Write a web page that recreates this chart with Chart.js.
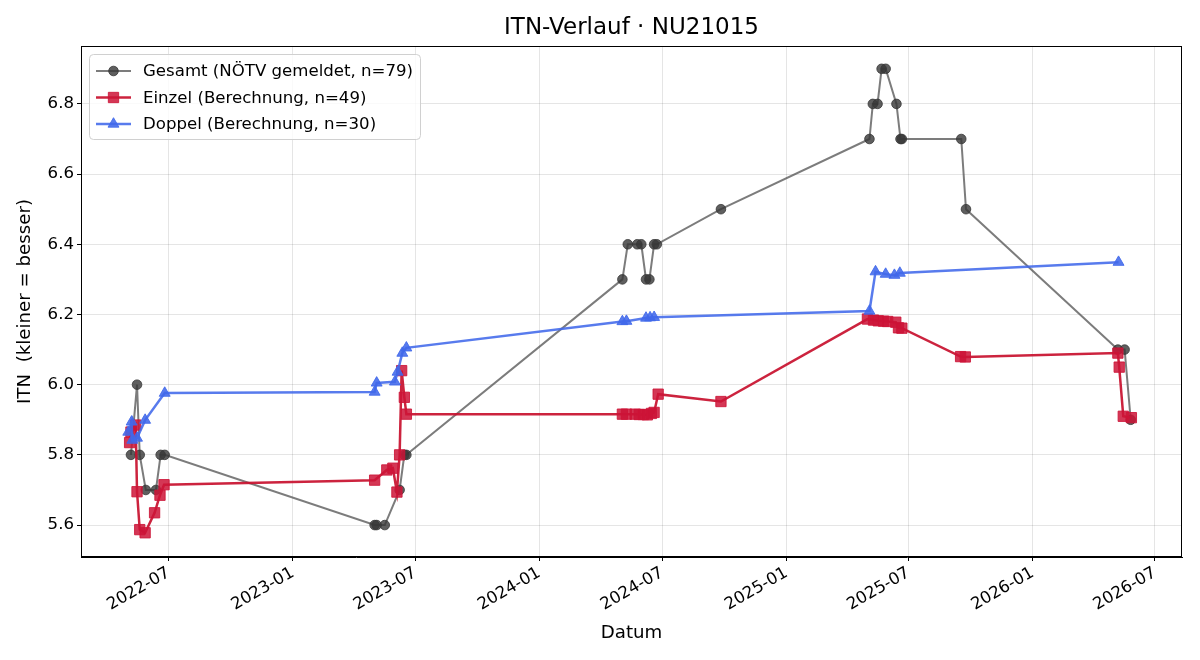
<!DOCTYPE html>
<html>
<head>
<meta charset="utf-8">
<script src="https://cdn.jsdelivr.net/npm/chart.js@4.4.1/dist/chart.umd.min.js"></script>
<style>
  html, body { margin: 0; padding: 0; background: #fff; }
  #wrap { width: 1200px; height: 660px; position: relative; }
</style>
</head>
<body>
<div id="wrap"><canvas id="itnChart" width="1200" height="660"></canvas></div>
<script>
// values
const gesamtDates = [
    '2022-05-06', '2022-05-15', '2022-05-19', '2022-05-28', '2022-06-12', '2022-06-19', '2022-06-25',
    '2023-05-02', '2023-05-05', '2023-05-17', '2023-06-08', '2023-06-15', '2023-06-18',
    '2024-05-03', '2024-05-11', '2024-05-25', '2024-05-31', '2024-06-07', '2024-06-12', '2024-06-19', '2024-06-23',
    '2024-09-26',
    '2025-05-04', '2025-05-09', '2025-05-16', '2025-05-22', '2025-05-28', '2025-06-13', '2025-06-19', '2025-06-21',
    '2025-09-17', '2025-09-24',
    '2026-05-07', '2026-05-17', '2026-05-26'
];
const gesamtValues = [
    5.8, 6.0, 5.8, 5.7, 5.7, 5.8, 5.8,
    5.6, 5.6, 5.6, 5.7, 5.8, 5.8,
    6.3, 6.4, 6.4, 6.4, 6.3, 6.3, 6.4, 6.4,
    6.5,
    6.7, 6.8, 6.8, 6.9, 6.9, 6.8, 6.7, 6.7,
    6.7, 6.5,
    6.1, 6.1, 5.9
];

const einzelDates = [
    '2022-05-04', '2022-05-06', '2022-05-13', '2022-05-15', '2022-05-19', '2022-05-27', '2022-06-10', '2022-06-18', '2022-06-24',
    '2023-05-02', '2023-05-20', '2023-05-29', '2023-06-04', '2023-06-08', '2023-06-11', '2023-06-15', '2023-06-18',
    '2024-05-03', '2024-05-09', '2024-05-22', '2024-05-28', '2024-06-03', '2024-06-09', '2024-06-15', '2024-06-19', '2024-06-25',
    '2024-09-26',
    '2025-05-01', '2025-05-10', '2025-05-17', '2025-05-25', '2025-05-31', '2025-06-12', '2025-06-16', '2025-06-21',
    '2025-09-16', '2025-09-23',
    '2026-05-07', '2026-05-09', '2026-05-15', '2026-05-27'
];
const einzelValues = [
    5.835, 5.865, 5.885, 5.695, 5.587, 5.578, 5.635, 5.685, 5.715,
    5.728, 5.757, 5.762, 5.694, 5.80, 6.04, 5.964, 5.916,
    5.916, 5.916, 5.916, 5.915, 5.915, 5.914, 5.918, 5.921, 5.973,
    5.952,
    6.187, 6.184, 6.182, 6.181, 6.180, 6.178, 6.162, 6.161,
    6.080, 6.079,
    6.090, 6.050, 5.910, 5.906
];

const doppelDates = [
    '2022-05-02', '2022-05-07', '2022-05-08', '2022-05-15', '2022-05-27', '2022-06-25',
    '2023-05-02', '2023-05-05', '2023-06-01', '2023-06-05', '2023-06-12', '2023-06-18',
    '2024-05-03', '2024-05-09', '2024-06-07', '2024-06-13', '2024-06-19',
    '2025-05-04', '2025-05-13', '2025-05-28', '2025-06-10', '2025-06-18',
    '2026-05-08'
];
const doppelValues = [
    5.865, 5.894, 5.842, 5.848, 5.899, 5.976,
    5.979, 6.005, 6.008, 6.036, 6.090, 6.105,
    6.180, 6.181, 6.190, 6.191, 6.192,
    6.210, 6.322, 6.315, 6.312, 6.318,
    6.349
];

const xTickLabels = ['2022-07', '2023-01', '2023-07', '2024-01', '2024-07', '2025-01', '2025-07', '2026-01', '2026-07'];
const yTickValues = [5.6, 5.8, 6.0, 6.2, 6.4, 6.6, 6.8];

const seriesLabels = [
    'Gesamt (NÖTV gemeldet, n=79)',
    'Einzel (Berechnung, n=49)',
    'Doppel (Berechnung, n=30)'
];

const day = s => Date.parse(s + 'T00:00:00Z');
const toPoints = (dates, vals) => dates.map((d, i) => ({ x: day(d), y: vals[i] }));
const xTickValues = xTickLabels.map(l => day(l + '-01'));

const FONT = "'DejaVu Sans', sans-serif";
const FS = 16.6;

// frame, title, axis titles and an in-plot legend like matplotlib
const decorPlugin = {
    id: 'decor',
    afterDraw(chart) {
        const { ctx, chartArea: a } = chart;
        ctx.save();
        ctx.strokeStyle = '#000';
        ctx.lineWidth = 1;
        ctx.strokeRect(Math.round(a.left) + 0.5, Math.round(a.top) + 0.5,
            Math.round(a.right - a.left) - 1, Math.round(a.bottom - a.top) - 1);

        const cx = (a.left + a.right) / 2;
        ctx.fillStyle = '#000';
        ctx.textAlign = 'center';
        ctx.textBaseline = 'middle';
        ctx.font = '23px ' + FONT;
        ctx.fillText('ITN-Verlauf · NU21015', cx, 28);

        ctx.font = '18.2px ' + FONT;
        ctx.fillText('Datum', cx, 633);
        ctx.save();
        ctx.translate(25, (a.top + a.bottom) / 2);
        ctx.rotate(-Math.PI / 2);
        ctx.fillText('ITN  (kleiner = besser)', 0, 0);
        ctx.restore();

        // legend
        const lx = a.left + 8, ly = a.top + 8, lw = 331, lh = 85;
        ctx.beginPath();
        ctx.roundRect(lx + 0.5, ly + 0.5, lw, lh, 4);
        ctx.fillStyle = 'rgba(255,255,255,0.8)';
        ctx.fill();
        ctx.strokeStyle = '#d0d0d0';
        ctx.stroke();

        chart.data.datasets.forEach((ds, i) => {
            const y = ly + 17 + i * 26.5;
            ctx.strokeStyle = ds.borderColor;
            ctx.lineWidth = ds.borderWidth;
            ctx.beginPath();
            ctx.moveTo(lx + 7, y);
            ctx.lineTo(lx + 42, y);
            ctx.stroke();
            ctx.fillStyle = ds.pointBackgroundColor;
            ctx.strokeStyle = ds.pointBorderColor;
            ctx.lineWidth = 1;
            Chart.helpers.drawPoint(ctx, {
                pointStyle: ds.pointStyle, radius: ds.pointRadius, rotation: 0, borderWidth: 1
            }, lx + 24.5, y);
            ctx.fillStyle = '#000';
            ctx.textAlign = 'left';
            ctx.textBaseline = 'middle';
            ctx.font = FS + 'px ' + FONT;
            ctx.fillText(ds.label, lx + 54, y + 1);
        });
        ctx.restore();
    }
};

const ctx = document.getElementById('itnChart').getContext('2d');
new Chart(ctx, {
    type: 'line',
    data: {
        datasets: [
            {
                label: seriesLabels[0],
                data: toPoints(gesamtDates, gesamtValues),
                borderColor: 'rgba(80,80,80,0.75)',
                borderWidth: 2,
                pointStyle: 'circle',
                pointRadius: 4.8,
                pointBackgroundColor: 'rgba(55,55,55,0.8)',
                pointBorderColor: 'rgba(55,55,55,0.8)',
                pointBorderWidth: 1,
                tension: 0,
                order: 3
            },
            {
                label: seriesLabels[1],
                data: toPoints(einzelDates, einzelValues),
                borderColor: 'rgba(200,16,46,0.92)',
                borderWidth: 2.5,
                pointStyle: 'rect',
                pointRadius: 7.3,
                pointBackgroundColor: 'rgba(205,20,55,0.85)',
                pointBorderColor: 'rgba(205,20,55,0.85)',
                pointBorderWidth: 1,
                tension: 0,
                order: 2
            },
            {
                label: seriesLabels[2],
                data: toPoints(doppelDates, doppelValues),
                borderColor: 'rgba(65,105,235,0.88)',
                borderWidth: 2.5,
                pointStyle: 'triangle',
                pointRadius: 6.3,
                pointBackgroundColor: 'rgba(65,105,235,0.88)',
                pointBorderColor: 'rgba(65,105,235,0.88)',
                pointBorderWidth: 1,
                tension: 0,
                order: 1
            }
        ]
    },
    options: {
        responsive: false,
        animation: false,
        devicePixelRatio: 1,
        layout: { padding: { top: 46, left: 0, right: 18, bottom: 0 } },
        plugins: {
            legend: { display: false },
            title: { display: false },
            tooltip: { enabled: false }
        },
        scales: {
            x: {
                type: 'linear',
                min: day('2022-02-21'),
                max: day('2026-08-10'),
                afterBuildTicks: s => { s.ticks = xTickValues.map(v => ({ value: v })); },
                afterFit: s => { s.height = 103; },
                ticks: {
                    autoSkip: false,
                    maxRotation: 30,
                    minRotation: 30,
                    padding: 2,
                    color: '#000',
                    font: { family: FONT, size: FS },
                    callback: (v, i) => xTickLabels[i]
                },
                grid: {
                    color: 'rgba(0,0,0,0.1)',
                    tickColor: '#000',
                    tickLength: 4
                },
                border: { display: true, color: '#000', width: 1 }
            },
            y: {
                type: 'linear',
                min: 5.509,
                max: 6.965,
                afterBuildTicks: s => { s.ticks = yTickValues.map(v => ({ value: v })); },
                afterFit: s => { s.width = 81; },
                ticks: {
                    padding: 3,
                    color: '#000',
                    font: { family: FONT, size: FS },
                    callback: v => v.toFixed(1)
                },
                grid: {
                    color: 'rgba(0,0,0,0.1)',
                    tickColor: '#000',
                    tickLength: 4
                },
                border: { display: true, color: '#000', width: 1 }
            }
        }
    },
    plugins: [decorPlugin]
});
</script>
</body>
</html>
